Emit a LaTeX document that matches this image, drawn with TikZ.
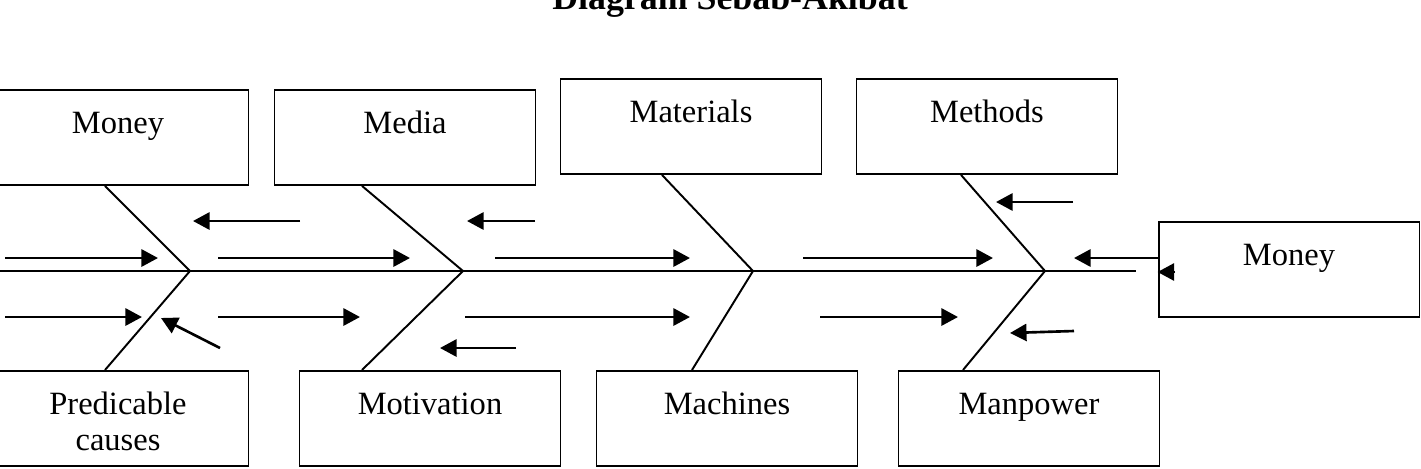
\documentclass[tikz,border=0pt]{standalone}
\usepackage{fontspec}
\setmainfont{Liberation Serif}
\usepackage{tikz}
\usetikzlibrary{arrows.meta,calc}
\tikzset{
  nd_cause/.style={rectangle,draw=black,line width=1.1pt,minimum width=5.22cm,inner sep=0pt,text height=0.88cm,text depth=1.02cm,align=center,font=\fontsize{18.5pt}{20.5pt}\selectfont,anchor=north},
  nd_title/.style={font=\fontsize{20.4pt}{22pt}\selectfont\bfseries,anchor=base,inner sep=0pt},
  spine/.style={line width=1.1pt},
  bone/.style={line width=1.1pt},
  arr/.style={-{Triangle[length=9.4pt,width=9.7pt]},line width=1.5pt},
}

\begin{document}
\begin{tikzpicture}[x=0.02cm,y=-0.02cm]
\useasboundingbox (0,0) rectangle (1421,468);
\fill[white] (0,0) rectangle (1421,468);
\clip (0,0) rectangle (1421,468);
\node[nd_title] at (730,9)(T){Diagram Sebab-Akibat};
% top causes
\node[nd_cause] at (118,89)(mny){Money};
\node[nd_cause] at (405,89)(mda){Media};
\node[nd_cause] at (691,78)(mat){Materials};
\node[nd_cause] at (987,78)(mth){Methods};
% bottom causes
\node[nd_cause,text height=1.60cm,text depth=0.30cm] at (118,370)(pc){Predicable\\causes};
\node[nd_cause] at (430,370)(mot){Motivation};
\node[nd_cause] at (727,370)(mac){Machines};
\node[nd_cause] at (1029,370)(mpw){Manpower};
% effect
\node[nd_cause] at (1289,221)(eff){Money};
% spine
\coordinate (tail) at (-5,271);
\coordinate (vA) at (190,271);
\coordinate (vB) at (463,271);
\coordinate (vC) at (753,271);
\coordinate (vD) at (1045,271);
\coordinate (head) at (1136,271);
\draw[spine](tail)--(head);
% bones
\draw[bone](mny.south -| 105,0)--(vA)--(pc.north -| 105,0);
\draw[bone](mda.south -| 362,0)--(vB)--(mot.north -| 362,0);
\draw[bone](mat.south -| 662,0)--(vC)--(mac.north -| 692,0);
\draw[bone](mth.south -| 961,0)--(vD)--(mpw.north -| 963,0);
% arrows
\foreach \xa/\ya/\xb/\yb in {5/258/158/258,218/258/410/258,495/258/690/258,803/258/993/258,
  300/221/193/221,535/221/467/221,1073/202/996/202,
  5/317/142/317,218/317/360/317,465/317/690/317,820/317/958/317,
  220/348/161/318,516/348/440/348,1074/331/1010/333}{\draw[arr](\xa,\ya)--(\xb,\yb);}
\draw[arr](eff.west |- 0,258)--(1074,258);
\draw[arr](1175,272)--(eff.west |- 0,272);
\end{tikzpicture}
\end{document}
